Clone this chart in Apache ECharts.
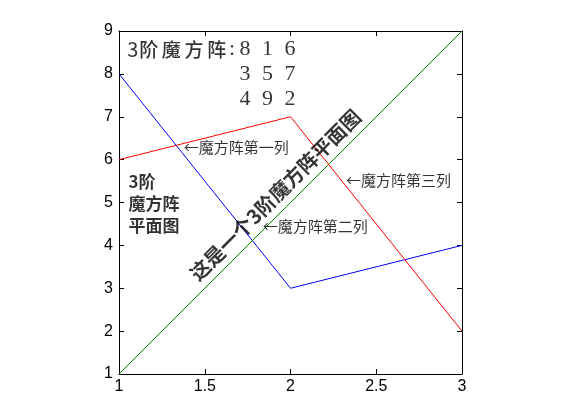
<!DOCTYPE html>
<html><head><meta charset="utf-8">
<script src="https://cdn.jsdelivr.net/npm/echarts@6/dist/echarts.min.js"></script>
<style>html,body{margin:0;padding:0;background:#fff}#c{width:561px;height:420px}</style>
</head><body><div id="c"></div>
<script>
// ---- data ----
const xValues = [1, 2, 3];
const column1 = [8, 3, 4];
const column2 = [1, 5, 9];
const column3 = [6, 7, 2];
const xTicks = [1, 1.5, 2, 2.5, 3];
const yTicks = [1, 2, 3, 4, 5, 6, 7, 8, 9];
const titlePrefix = '3阶魔方阵:';
const sideLines = ['3阶', '魔方阵', '平面图'];
const diagText = '这是一个3阶魔方阵平面图';
const columnNotes = ['←魔方阵第一列', '←魔方阵第二列', '←魔方阵第三列'];

// ---- layout / style ----
const colors = ['#0000ff', '#008000', '#ff0000'];
const notePos = {
  prefix: [1.6857, 8.57],
  matrix: [1.6657, 7.985],
  side: [1.0526, 4.965],
  diag: [1.911, 5.175],
  col1: [1.374, 6.294],
  col2: [1.835, 4.436],
  col3: [2.32, 5.525]
};
const cjk = '"Noto Sans CJK SC", sans-serif';
const serif = '"Liberation Serif", serif';
const tickFont = '"Liberation Sans Narrow", "Liberation Sans", Arial, sans-serif';

const columns = [column1, column2, column3];
const matrixRows = xValues.map((_, i) => columns.map(c => c[i]));

function isAscii(ch) { return ch.charCodeAt(0) < 128; }
function prefixTokens(str) {
  return Array.from(str).map(ch => {
    if (ch === ':') return '{k|:}';
    return (isAscii(ch) ? '{a|' : '{c|') + ch + '}';
  }).join('');
}

function pt(pos, label) {
  return { value: pos, label: Object.assign({ show: true, color: '#000' }, label) };
}

const noteData = [
  pt(notePos.prefix, { position: 'left', distance: 0, formatter: prefixTokens(titlePrefix),
    rich: {
      a: { fontFamily: cjk, fontSize: 20, width: 10, align: 'left', color: '#000' },
      c: { fontFamily: cjk, fontSize: 19, fontWeight: 500, width: 22.7, align: 'center', color: '#000' },
      k: { fontFamily: serif, fontSize: 22, width: 8, align: 'center', color: '#000' }
    } }),
  pt(notePos.matrix, { position: 'right', distance: 0,
    formatter: matrixRows.map(r => r.map(v => '{d|' + v + '}').join('')).join('\n'),
    lineHeight: 25,
    rich: { d: { fontFamily: serif, fontSize: 22, width: 22.5, align: 'center', lineHeight: 25, color: '#000' } } }),
  pt(notePos.side, { position: 'right', distance: 0, formatter: sideLines.join('\n'),
    fontFamily: cjk, fontSize: 17, fontWeight: 'bold', lineHeight: 22 }),
  pt(notePos.diag, { position: 'inside', rotate: 45, formatter: diagText,
    fontFamily: cjk, fontSize: 20, fontWeight: 'bold' }),
  pt(notePos.col1, { position: 'right', distance: 0, formatter: columnNotes[0], fontFamily: cjk, fontSize: 15 }),
  pt(notePos.col2, { position: 'right', distance: 0, formatter: columnNotes[1], fontFamily: cjk, fontSize: 15 }),
  pt(notePos.col3, { position: 'right', distance: 0, formatter: columnNotes[2], fontFamily: cjk, fontSize: 15 })
];

const axisCommon = {
  type: 'value',
  axisLine: { show: true, onZero: false, lineStyle: { color: '#000', width: 1 } },
  axisTick: { show: true, inside: true, length: 5, lineStyle: { color: '#000' } },
  splitLine: { show: false }
};
const xLab = { color: '#000', fontFamily: tickFont, fontSize: 16, margin: 5 };
const yLab = { color: '#000', fontFamily: tickFont, fontSize: 16, margin: 6 };

const chart = echarts.init(document.getElementById('c'), null, { renderer: 'canvas' });
chart.setOption({
  animation: false,
  backgroundColor: '#fff',
  grid: { left: 119, right: 99, top: 31, bottom: 46, containLabel: false, outerBoundsMode: 'none' },
  xAxis: [
    Object.assign({}, axisCommon, { position: 'bottom', min: xTicks[0], max: xTicks[xTicks.length - 1], interval: 0.5,
      axisLabel: Object.assign({ formatter: v => String(v) }, xLab) }),
    Object.assign({}, axisCommon, { position: 'top', min: xTicks[0], max: xTicks[xTicks.length - 1], interval: 0.5,
      axisLabel: { show: false } })
  ],
  yAxis: [
    Object.assign({}, axisCommon, { position: 'left', min: yTicks[0], max: yTicks[yTicks.length - 1], interval: 1,
      axisLabel: yLab }),
    Object.assign({}, axisCommon, { position: 'right', min: yTicks[0], max: yTicks[yTicks.length - 1], interval: 1,
      axisLabel: { show: false } })
  ],
  series: columns.map((col, i) => ({
    type: 'line',
    data: xValues.map((x, j) => [x, col[j]]),
    symbol: 'none',
    lineStyle: { color: colors[i], width: 1 },
    itemStyle: { color: colors[i] },
    silent: true
  })).concat([{
    type: 'scatter',
    data: noteData,
    symbolSize: 1,
    itemStyle: { color: 'rgba(0,0,0,0)' },
    silent: true,
    clip: false,
    z: 10
  }])
});
</script></body></html>
